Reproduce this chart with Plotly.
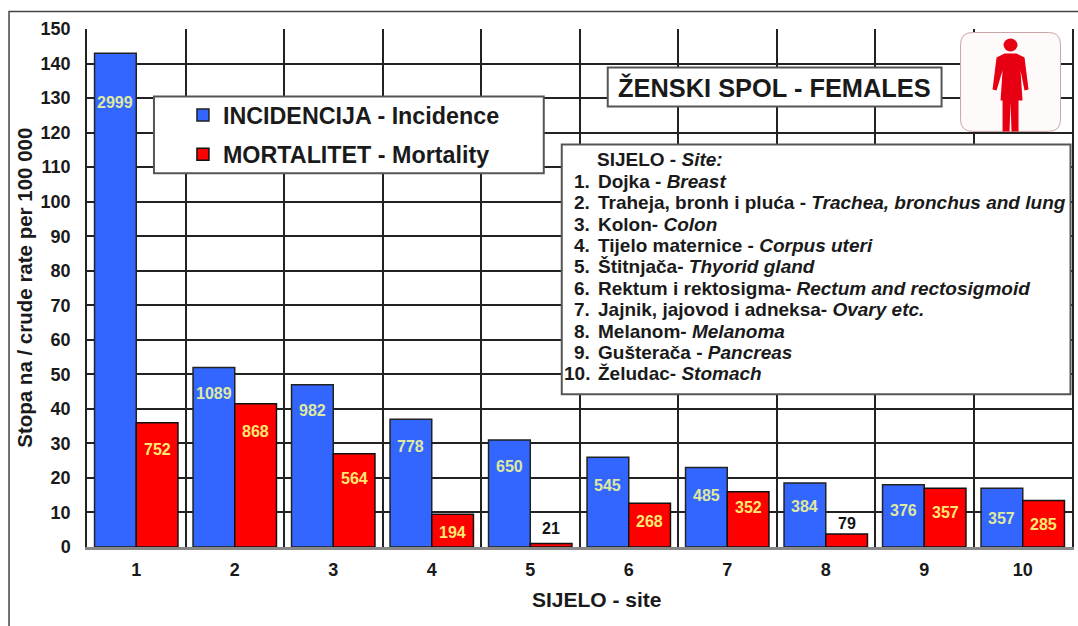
# Zenski spol - stope incidencije i mortaliteta po sijelu
import plotly.graph_objects as go

W, H = 1078, 626
L, R, T, B = 87, 1072.5, 28.5, 547
FONT = "Liberation Sans"
INK = "#1a1a1a"

sites = ["1", "2", "3", "4", "5", "6", "7", "8", "9", "10"]
incidence_rate = [143, 52, 47, 37, 31, 26, 23, 18.5, 18, 17]
mortality_rate = [36, 41.5, 27, 9.5, 1, 12.7, 16, 3.8, 17, 13.5]
incidence_cases = [2999, 1089, 982, 778, 650, 545, 485, 384, 376, 357]
mortality_cases = [752, 868, 564, 194, 21, 268, 352, 79, 357, 285]

site_names_hr = ["Dojka - ", "Traheja, bronh i pluća - ", "Kolon- ", "Tijelo maternice - ",
                 "Štitnjača- ", "Rektum i rektosigma- ", "Jajnik, jajovod i adneksa- ",
                 "Melanom- ", "Gušterača - ", "Želudac- "]
site_names_en = ["Breast", "Trachea, bronchus and lung", "Colon", "Corpus uteri",
                 "Thyorid gland", "Rectum and rectosigmoid", "Ovary etc.",
                 "Melanoma", "Pancreas", "Stomach"]

# pixels from bar top down to label centre (negative = above the bar)
incidence_drop = [49, 26, 26, 27, 27, 28, 28, 23, 26, 30]
mortality_drop = [27, 28, 25, 18, -15, 18, 16, -10, 24, 24]


def fx(px):
    return (px - L) / (R - L)


def fy(py):
    return (B - py) / (B - T)


def box(x0, y0, x1, y1, fill="white", line="#555", width=2):
    return dict(type="rect", xref="paper", yref="paper", x0=fx(x0), x1=fx(x1), y0=fy(y1), y1=fy(y0),
                fillcolor=fill, line=dict(color=line, width=width), layer="above")


def text(x, y, s, size=19, anchor="left", color=INK):
    return dict(xref="paper", yref="paper", x=fx(x), y=fy(y), text=s, showarrow=False,
                xanchor=anchor, yanchor="middle", font=dict(family=FONT, size=size, color=color))


def path(points, fill):
    d = "M" + " L".join(f"{fx(x):.5f},{fy(y):.5f}" for x, y in points) + " Z"
    return dict(type="path", xref="paper", yref="paper", path=d, fillcolor=fill,
                line=dict(width=0), layer="above")


def rounded(x0, y0, x1, y1, r, fill, line):
    d = (f"M{fx(x0 + r):.5f},{fy(y0):.5f} L{fx(x1 - r):.5f},{fy(y0):.5f} "
         f"Q{fx(x1):.5f},{fy(y0):.5f} {fx(x1):.5f},{fy(y0 + r):.5f} "
         f"L{fx(x1):.5f},{fy(y1 - r):.5f} Q{fx(x1):.5f},{fy(y1):.5f} {fx(x1 - r):.5f},{fy(y1):.5f} "
         f"L{fx(x0 + r):.5f},{fy(y1):.5f} Q{fx(x0):.5f},{fy(y1):.5f} {fx(x0):.5f},{fy(y1 - r):.5f} "
         f"L{fx(x0):.5f},{fy(y0 + r):.5f} Q{fx(x0):.5f},{fy(y0):.5f} {fx(x0 + r):.5f},{fy(y0):.5f} Z")
    return dict(type="path", xref="paper", yref="paper", path=d, fillcolor=fill,
                line=dict(color=line, width=1), layer="above")


fig = go.Figure()
fig.add_trace(go.Bar(x=sites, y=incidence_rate, name="INCIDENCIJA - Incidence", legendgroup="inc",
                     marker=dict(color="#3366ff", line=dict(color="#222", width=1.5))))
fig.add_trace(go.Bar(x=sites, y=mortality_rate, name="MORTALITET - Mortality", legendgroup="mor",
                     marker=dict(color="#ff0000", line=dict(color="#111", width=1.5))))

annotations = []
for i in range(len(sites)):
    annotations.append(dict(x=i, y=incidence_rate[i], text=f"<b>{incidence_cases[i]}</b>", showarrow=False,
                            xshift=-21, yshift=-incidence_drop[i], yanchor="middle",
                            font=dict(family=FONT, size=16, color="#dfe8a0")))
    outside = mortality_drop[i] < 0
    annotations.append(dict(x=i, y=mortality_rate[i], text=f"<b>{mortality_cases[i]}</b>", showarrow=False,
                            xshift=21, yshift=-mortality_drop[i], yanchor="middle",
                            font=dict(family=FONT, size=16, color="#111" if outside else "#ffe870")))

shapes = [
    # outer frame of the page
    dict(type="rect", xref="paper", yref="paper", x0=fx(9), x1=fx(1090), y0=fy(640), y1=fy(11),
         line=dict(color="#444", width=1.5), layer="below"),
    box(154, 96, 544, 173),
    box(608, 67, 942, 106),
    box(562, 144, 1071, 394),
    # pictogram
    rounded(961, 32, 1061, 131, 12, "#fffafa", "#c9a5a5"),
    dict(type="circle", xref="paper", yref="paper", x0=fx(1004), x1=fx(1018), y0=fy(51), y1=fy(38),
         fillcolor="#e60012", line=dict(width=0), layer="above"),
    path([(1005, 53), (1017, 53), (1025, 57), (1029, 89), (1025, 90), (1021, 70), (1023, 100),
          (1019, 100), (1019, 131), (1012, 131), (1011, 102), (1010, 131), (1003, 131),
          (1003, 100), (1001, 100), (1003, 70), (997, 90), (993, 89), (997, 57)], "#e60012"),
]

annotations.append(text(774.5, 87, "<b>ŽENSKI SPOL - FEMALES</b>", size=25.4, anchor="center"))
annotations.append(text(595.5, 159, "<b>SIJELO - <i>Site:</i></b>"))
for i, (hr, en) in enumerate(zip(site_names_hr, site_names_en)):
    row_y = 181 + i * 21.4
    annotations.append(text(592.5, row_y, f"<b>{sites[i]}.</b>", anchor="right"))
    annotations.append(text(596.5, row_y, f"<b>{hr}<i>{en}</i></b>"))
annotations.append(text(597, 600, "<b>SIJELO - site</b>", size=21, anchor="center"))
y_title = text(25, 287.5, "<b>Stopa na / crude rate per 100 000</b>", size=20.5, anchor="center")
y_title["textangle"] = -90
annotations.append(y_title)

fig.update_layout(
    width=W, height=H,
    margin=dict(l=L, r=W - R, t=T, b=H - B, autoexpand=False),
    barmode="group", bargap=0.153, bargroupgap=0,
    plot_bgcolor="white", paper_bgcolor="white",
    font=dict(family=FONT, color=INK),
    legend=dict(x=fx(183), y=fy(93), xanchor="left", yanchor="top", traceorder="grouped",
                tracegroupgap=6, bgcolor="rgba(0,0,0,0)", itemclick=False,
                font=dict(family=FONT, size=23.3, color=INK, weight="bold")),
    shapes=shapes, annotations=annotations,
)
fig.update_xaxes(
    type="category", range=[-0.5, 9.5], tickson="boundaries", showgrid=True, gridcolor="#222", gridwidth=1.5,
    ticks="", showline=True, linecolor="#888", linewidth=3,
    tickfont=dict(family=FONT, size=18, color=INK, weight="bold"), ticklabelstandoff=4,
)
fig.update_yaxes(
    range=[0, 150], dtick=10, showgrid=True, gridcolor="#222", gridwidth=1.5, zeroline=False,
    ticks="", showline=True, linecolor="#222", linewidth=1.5, mirror=True,
    tickfont=dict(family=FONT, size=18, color=INK, weight="bold"), ticklabelstandoff=11,
)

fig.write_html("out.html", config={"displayModeBar": False}, post_script="document.body.style.margin='0';")
